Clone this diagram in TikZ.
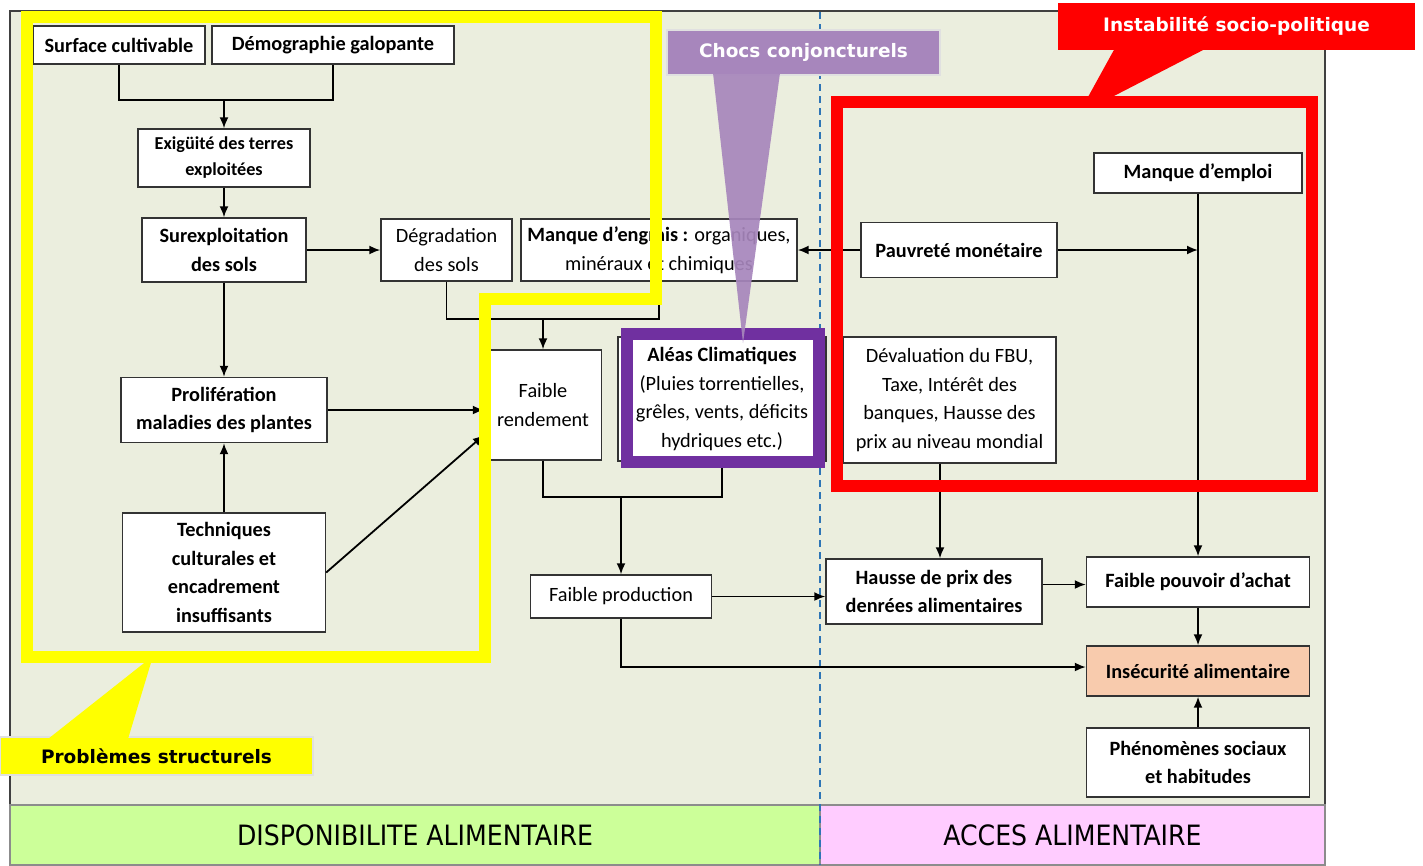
\documentclass[tikz,border=0pt]{standalone}
\usepackage{fontspec}
\setmainfont{Carlito}
\newfontfamily\verd{DejaVu Sans}
\newfontfamily\cond{DejaVu Sans Condensed}
\usepackage{xcolor}
\definecolor{bgc}{RGB}{235,238,222}
\definecolor{lgrn}{RGB}{204,255,153}
\definecolor{lpink}{RGB}{255,204,255}
\definecolor{lav}{RGB}{167,134,188}
\definecolor{pviolet}{RGB}{112,48,160}
\definecolor{peach}{RGB}{248,203,173}
\definecolor{dblue}{RGB}{46,117,182}
\definecolor{pyellow}{RGB}{255,255,0}
\definecolor{pred}{RGB}{255,0,0}
\usepackage{tikz}
\usetikzlibrary{arrows.meta,positioning,calc}

\begin{document}
\begin{tikzpicture}[
  x=1pt, y=-1pt,
  >={Latex[length=11pt,width=9pt]},
  cbox/.style={rectangle,draw=black!80,line width=1.4pt,fill=white,align=center,inner sep=0pt,font=\fontsize{20.3}{28.5}\selectfont},
  bcbox/.style={cbox,font=\bfseries\fontsize{20.3}{28.5}\selectfont},
  tag/.style={rectangle,inner sep=0pt,align=center,text=white,font=\verd\bfseries\fontsize{18.5}{22}\selectfont},
  band/.style={rectangle,draw=black!45,line width=2pt,inner sep=0pt,font=\cond\fontsize{28}{32}\selectfont}
]
  \useasboundingbox (0,0) rectangle (1423,865);
  \filldraw[fill=bgc,draw=black!75,line width=1.5pt] (10,11) rectangle (1325,805);
  \node[band,fill=lgrn,minimum width=810pt,minimum height=60pt] (dispo) at (415,835) {DISPONIBILITE ALIMENTAIRE};
  \node[band,fill=lpink,minimum width=505pt,minimum height=60pt] (acces) at (1072.5,835) {ACCES ALIMENTAIRE};
  \draw[dblue,line width=1.5pt,dash pattern=on 7pt off 5pt] (820,12) -- (820,865);

  \node[bcbox,minimum width=172pt,minimum height=38pt] (surf) at (119,45) {Surface cultivable};
  \node[bcbox,minimum width=242pt,minimum height=38pt] (demo) at (333,45) {Démographie galopante};
  \node[cbox,font=\bfseries\fontsize{18.2}{26}\selectfont,minimum width=172pt,minimum height=58pt] (exig) at (224,158) {Exigüité des terres\\exploitées};
  \node[bcbox,minimum width=164pt,minimum height=64pt] (surexp) at (224,250) {Surexploitation\\des sols};
  \node[cbox,minimum width=131pt,minimum height=62pt] (degr) at (446.5,250) {Dégradation\\des sols};
  \node[cbox,minimum width=276pt,minimum height=62pt] (engr) at (659,250) {\textbf{Manque d’engrais :} organiques,\\minéraux et chimiques};
  \node[bcbox,minimum width=196pt,minimum height=55pt] (pauv) at (959,250) {Pauvreté monétaire};
  \node[bcbox,minimum width=208pt,minimum height=40pt] (emploi) at (1198,173) {Manque d’emploi};
  \node[bcbox,minimum width=206pt,minimum height=65pt] (prolif) at (224,410) {Prolifération\\maladies des plantes};
  \node[bcbox,minimum width=203pt,minimum height=119pt] (tech) at (224,572.5) {Techniques\\culturales et\\encadrement\\insuffisants};
  \node[cbox,minimum width=117pt,minimum height=110pt] (faibr) at (543,405) {Faible\\rendement};
  \node[cbox,minimum width=208pt,minimum height=124pt] (aleas) at (722,399) {\textbf{Aléas Climatiques}\\(Pluies torrentielles,\\grêles, vents, déficits\\hydriques etc.)};
  \node[cbox,minimum width=213pt,minimum height=126pt] (deval) at (949.5,400) {Dévaluation du FBU,\\Taxe, Intérêt des\\banques, Hausse des\\prix au niveau mondial};
  \node[cbox,minimum width=181pt,minimum height=43pt] (faibp) at (621,596.5) {Faible production};
  \node[bcbox,minimum width=216pt,minimum height=65pt] (hausse) at (934,591.5) {Hausse de prix des\\denrées alimentaires};
  \node[bcbox,minimum width=223pt,minimum height=50pt] (pouv) at (1198,582) {Faible pouvoir d’achat};
  \node[bcbox,fill=peach,minimum width=223pt,minimum height=50pt] (insec) at (1198,671) {Insécurité alimentaire};
  \node[bcbox,minimum width=223pt,minimum height=69pt] (pheno) at (1198,762.5) {Phénomènes sociaux\\et habitudes};

  \coordinate (j1) at (224,100);
  \coordinate (j2) at (543,319);
  \coordinate (j3) at (621,497);
  \coordinate (j4) at (1198,250);

  \draw[line width=1.8pt] (surf.south) |- (j1) -| (demo.south);
  \draw[->,line width=1.8pt] (j1) -- (exig);
  \draw[->,line width=1.8pt] (exig) -- (surexp);
  \draw[->,line width=1.8pt] (surexp) -- (degr);
  \draw[->,line width=1.8pt] (surexp) -- (prolif);
  \draw[line width=1.8pt] (degr.south) |- (j2) -| (engr.south);
  \draw[->,line width=1.8pt] (j2) -- (faibr);
  \draw[->,line width=1.8pt] (prolif.east) -- (prolif.east -| faibr.west);
  \draw[->,line width=1.8pt] (tech.east) -- ([yshift=-30pt]faibr.west);
  \draw[->,line width=1.8pt] (tech) -- (prolif);
  \draw[line width=1.8pt] (faibr.south) |- (j3) -| (aleas.south);
  \draw[->,line width=1.8pt] (j3) -- (faibp);
  \draw[->,line width=1.8pt] (faibp.east) -- (faibp.east -| hausse.west);
  \draw[->,line width=1.8pt] (faibp.south) |- ([yshift=4pt]insec.west);
  \draw[->,line width=1.8pt] (pauv) -- (engr);
  \draw[->,line width=1.8pt] (pauv) -- (j4);
  \draw[->,line width=1.8pt] (emploi) -- (pouv);
  \draw[->,line width=1.8pt] ([xshift=-9.5pt]deval.south) -- ([xshift=6pt]hausse.north);
  \draw[->,line width=1.8pt] ([yshift=7pt]hausse.east) -- ([yshift=7pt]hausse.east -| pouv.west);
  \draw[->,line width=1.8pt] (pouv) -- (insec);
  \draw[->,line width=1.8pt] (pheno) -- (insec);

  \draw[pyellow,line width=12pt] (27,17) -- (656,17) -- (656,299) -- (485,299) -- (485,657) -- (27,657) -- cycle;
  \draw[pred,line width=12pt] (837,102) rectangle (1312,486);
  \draw[pviolet,line width=12pt] (627,334) rectangle (819,462);

  \node[tag,fill=lav,draw=black!12,line width=2pt,minimum width=273pt,minimum height=45pt] (chocs) at (803.5,52.5) {Chocs conjoncturels};
  \node[tag,fill=pred,minimum width=357pt,minimum height=47pt] (insta) at (1236.5,26.5) {Instabilité socio-politique};
  \node[tag,fill=pyellow,text=black,draw=black!12,line width=2pt,minimum width=313pt,minimum height=38pt] (struct) at (156.5,756) {Problèmes structurels};

  \fill[lav,fill opacity=0.92] (713,73) -- (780,73) -- (743,343) -- cycle;
  \fill[pred] (1115,48) -- (1207,48) -- (1112,97) -- (1088,97) -- cycle;
  \fill[pyellow] (48,739) -- (128,739) -- (153,656) -- cycle;
\end{tikzpicture}
\end{document}
